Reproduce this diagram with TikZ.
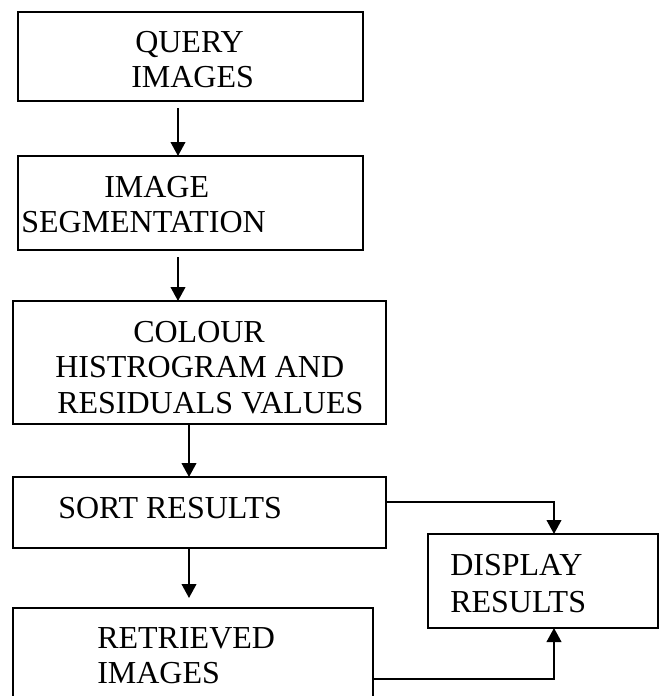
\documentclass[tikz,border=0pt]{standalone}
\usepackage{fontspec}
\setmainfont{Liberation Serif}
\usetikzlibrary{arrows.meta,fit}
\begin{document}
\begin{tikzpicture}[x=0.75pt,y=-0.75pt,
  box/.style={draw=black,line width=1.3pt,inner sep=0pt,outer sep=0pt,rectangle},
  lbl/.style={anchor=base west,inner sep=0pt,font=\fontsize{24}{28}\selectfont},
  arr/.style={line width=1.4pt,-{Triangle[length=10.5pt,width=11pt]}}]
\useasboundingbox (0,0) rectangle (663,696);
% boxes
\node[box,fit={(18,12) (363,101)}] (q) {};
\node[box,fit={(18,156) (363,250)}] (s) {};
\node[box,fit={(13,301) (386,424)}] (c) {};
\node[box,fit={(13,477) (386,548)}] (sr) {};
\node[box,fit={(428,534) (658,628)}] (d) {};
\node[box,fit={(13,608) (373,702)}] (r) {};
% guide coordinates for connector columns and rows
\coordinate (x1) at (178,0);
\coordinate (x2) at (189,0);
\coordinate (x3) at (554,0);
\coordinate (y1) at (0,502);
\coordinate (y2) at (0,679);
% texts
\node[lbl] (t1) at (135,52) {QUERY};
\node[lbl] (t2) at (131,87) {IMAGES};
\node[lbl] (t3) at (104,197) {IMAGE};
\node[lbl] (t4) at (21,232) {SEGMENTATION};
\node[lbl] (t5) at (133,342) {COLOUR};
\node[lbl] (t6) at (55,377) {HISTROGRAM AND};
\node[lbl] (t7) at (57,413) {RESIDUALS VALUES};
\node[lbl] (t8) at (58,518) {SORT RESULTS};
\node[lbl] (t9) at (450,575) {DISPLAY};
\node[lbl] (t10) at (450,612) {RESULTS};
\node[lbl] (t11) at (97,648) {RETRIEVED};
\node[lbl] (t12) at (97,683) {IMAGES};
% arrows
\draw[arr,shorten <=5.25pt] (q.south -| x1) -- (s.north -| x1);
\draw[arr,shorten <=5.25pt] (s.south -| x1) -- (c.north -| x1);
\draw[arr] (c.south -| x2) -- (sr.north -| x2);
\draw[arr,shorten >=7.5pt] (sr.south -| x2) -- (r.north -| x2);
\draw[arr] (sr.east |- y1) -| (d.north -| x3);
\draw[arr] (r.east |- y2) -| (d.south -| x3);
\end{tikzpicture}
\end{document}
